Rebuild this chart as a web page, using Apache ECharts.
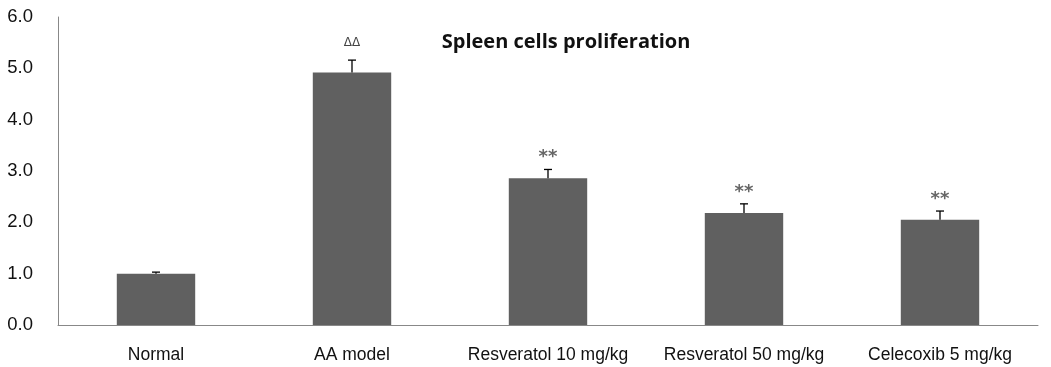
<!DOCTYPE html>
<html>
<head>
<meta charset="utf-8">
<script src="https://cdn.jsdelivr.net/npm/echarts@6/dist/echarts.min.js"></script>
<style>
  html, body { margin: 0; padding: 0; background: #fff; }
  #main { width: 1051px; height: 367px; }
</style>
</head>
<body>
<div id="main"></div>
<script>
var categories = ['Normal', 'AA model', 'Resveratol 10 mg/kg', 'Resveratol 50 mg/kg', 'Celecoxib 5 mg/kg'];
var means = [1.0, 4.92, 2.86, 2.18, 2.05];
var errors = [0.03, 0.24, 0.17, 0.18, 0.17];
var marks = ['', 'ΔΔ', '**', '**', '**'];
var yTicks = [0, 1, 2, 3, 4, 5, 6];

var myChart = echarts.init(document.getElementById('main'));

var errData = categories.map(function (c, i) {
    return [i, means[i], errors[i], marks[i]];
});

var option = {
    animation: false,
    title: {
        text: 'Spleen cells proliferation',
        left: 561,
        top: 27,
        textAlign: 'center',
        textStyle: { fontFamily: 'Open Sans', fontWeight: 'bold', fontSize: 20, color: '#111' }
    },
    grid: { left: 58, right: 13, top: 17, bottom: 42 },
    xAxis: {
        type: 'category',
        data: categories,
        axisLine: { lineStyle: { color: '#888', width: 1 } },
        axisTick: { show: false },
        axisLabel: { interval: 0, fontFamily: 'Liberation Sans', fontSize: 17.5, color: '#111', margin: 21 }
    },
    yAxis: {
        type: 'value',
        min: yTicks[0],
        max: yTicks[yTicks.length - 1],
        interval: 1,
        axisLine: { show: true, lineStyle: { color: '#888', width: 1 } },
        axisTick: { show: false },
        splitLine: { show: false },
        axisLabel: {
            fontFamily: 'Liberation Sans', fontSize: 18.5, color: '#111', margin: 25,
            formatter: function (v) { return v.toFixed(1); }
        }
    },
    series: [{
        type: 'bar',
        data: means,
        barCategoryGap: '60%',
        itemStyle: { color: '#606060' }
    }, {
        type: 'custom',
        data: errData,
        z: 5,
        renderItem: function (params, api) {
            var x = api.value(0);
            var base = api.coord([x, api.value(1)]);
            var top = api.coord([x, api.value(1) + api.value(2)]);
            var mark = api.value(3);
            var star = mark === '**';
            var style = { stroke: '#000', lineWidth: 1.3 };
            return {
                type: 'group',
                children: [{
                    type: 'line',
                    shape: { x1: base[0], y1: base[1], x2: top[0], y2: top[1] },
                    style: style
                }, {
                    type: 'line',
                    shape: { x1: top[0] - 4, y1: top[1], x2: top[0] + 4, y2: top[1] },
                    style: style
                }, {
                    type: 'text',
                    x: top[0],
                    y: top[1] - (star ? 12 : 17),
                    style: {
                        text: mark,
                        align: 'center',
                        verticalAlign: 'middle',
                        fontFamily: 'DejaVu Sans',
                        fontSize: star ? 18 : 12,
                        fontWeight: star ? 'bold' : 'normal',
                        fill: star ? '#666' : '#444'
                    }
                }]
            };
        }
    }]
};

myChart.setOption(option);
</script>
</body>
</html>
